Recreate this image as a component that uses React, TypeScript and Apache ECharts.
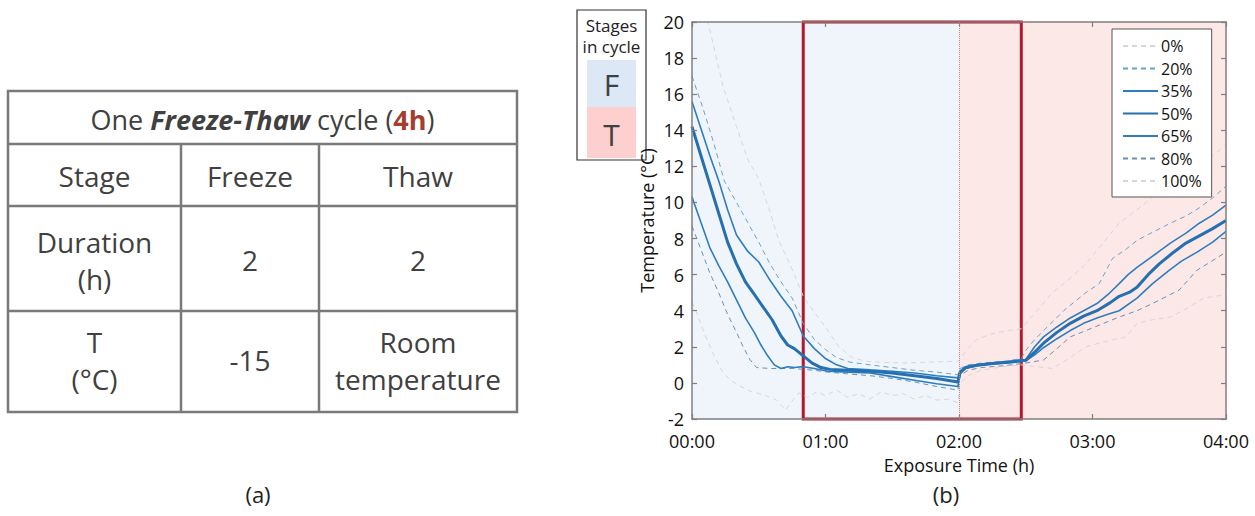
import React, { useEffect, useRef } from 'react';
import * as echarts from 'echarts';

const FONT = '"Open Sans", "Noto Sans", sans-serif';

// x axis: minutes 0..240, tick labels
const xTickLabels = ['00:00', '01:00', '02:00', '03:00', '04:00'];
const legendNames = ['0%', '20%', '35%', '50%', '65%', '80%', '100%'];

// [minute, temperature °C]
const p0: number[][] = [[0,4.5],[3,3.6],[6,2.6],[10,1.5],[14,0.55],[18,0.1],[22,-0.2],[26,-0.45],[29,-0.55],[33,-0.7],[38,-0.95],[42,-1.5],[45,-1.0],[48,-0.55],[52,-0.8],[56,-0.5],[60,-0.7],[65,-0.4],[70,-0.8],[75,-0.6],[80,-0.9],[85,-0.5],[90,-0.7],[95,-0.6],[100,-0.9],[105,-0.7],[110,-0.95],[115,-0.9],[119.5,-1.1],[120.5,0.0],[124,0.4],[130,0.7],[140,0.9],[148,1.0],[155,0.9],[162,0.8],[170,1.4],[177,2.0],[186,2.3],[195,2.55],[200,3.3],[207,3.5],[215,3.65],[222,4.1],[230,4.7],[240,4.9]];
const p20: number[][] = [[0,17.0],[5,15.2],[10,13.2],[14.5,11.2],[20,10.0],[25,8.9],[30,7.8],[35,6.6],[40,5.6],[45,4.7],[50,3.3],[55,2.4],[60,1.85],[65,1.4],[71,1.15],[80,1.0],[90,0.85],[100,0.7],[110,0.6],[119.5,0.45],[120.5,0.8],[124,1.0],[130,1.1],[140,1.2],[148,1.35],[150,1.8],[154,2.4],[158,2.9],[163,3.5],[167,4.0],[172,4.5],[177,5.0],[183,5.5],[186,6.2],[189,6.9],[195,7.4],[200,7.9],[207,8.35],[215,8.85],[222,9.25],[228,9.7],[234,10.25],[240,10.9]];
const p35: number[][] = [[0,15.6],[4,14.1],[8,12.6],[12,11.2],[16,9.6],[20,8.2],[25,7.3],[30,6.7],[35,5.7],[40,4.8],[45,4.0],[50,2.6],[55,1.9],[60,1.35],[65,1.0],[70,0.8],[80,0.72],[90,0.65],[100,0.55],[110,0.4],[119.5,0.28],[120.5,0.65],[123,0.9],[128,1.0],[135,1.1],[142,1.18],[150,1.3],[154,2.0],[158,2.55],[164,3.1],[170,3.6],[176,4.0],[182,4.4],[187,4.9],[192,5.5],[196,6.0],[200,6.4],[205,6.85],[209,7.2],[215,7.75],[222,8.3],[228,8.85],[234,9.3],[240,9.85]];
const p50: number[][] = [[0,14.2],[4,12.6],[8,11.0],[12,9.4],[16,7.8],[20,6.6],[24,5.6],[28,4.9],[32,4.2],[36,3.5],[40,2.6],[43,2.1],[46,1.9],[50,1.5],[54,1.1],[58,0.85],[62,0.75],[70,0.7],[80,0.65],[90,0.55],[100,0.4],[110,0.25],[119.5,0.05],[120.5,0.6],[123,0.85],[128,0.98],[135,1.08],[142,1.15],[150,1.25],[154,1.7],[158,2.2],[164,2.8],[170,3.3],[176,3.7],[182,4.0],[188,4.45],[192,4.8],[197,5.05],[200,5.3],[205,6.0],[210,6.6],[216,7.2],[222,7.75],[228,8.15],[234,8.55],[240,9.0]];
const p65: number[][] = [[0,10.3],[4,8.9],[8,7.5],[12,6.5],[16,5.6],[20,4.6],[24,3.6],[28,2.8],[31,2.1],[34,1.5],[37,1.0],[40,0.8],[43,0.9],[46,0.85],[50,0.9],[55,0.8],[61,0.65],[70,0.6],[80,0.55],[90,0.35],[100,0.15],[110,-0.05],[119.5,-0.2],[120.5,0.5],[123,0.8],[128,0.95],[135,1.05],[142,1.12],[150,1.22],[154,1.55],[158,1.95],[164,2.45],[170,2.9],[176,3.3],[182,3.6],[188,3.85],[192,4.0],[200,4.7],[207,5.5],[214,6.2],[220,6.75],[227,7.25],[234,7.8],[240,8.4]];
const p80: number[][] = [[0,8.7],[4,7.4],[8,6.1],[12,5.0],[16,3.8],[20,2.8],[23,2.0],[26,1.3],[29,0.85],[35,0.8],[45,0.8],[55,0.7],[61,0.6],[70,0.5],[80,0.4],[90,0.25],[100,0.05],[110,-0.2],[119.5,-0.4],[120.5,0.4],[124,0.7],[130,0.85],[140,0.95],[150,1.1],[158,1.27],[164,1.9],[170,2.55],[177,2.9],[185,3.3],[192,3.65],[200,4.0],[207,4.4],[215,4.9],[219,5.15],[223,5.7],[227,6.25],[233,6.7],[240,7.25]];
const p100: number[][] = [[0,23.5],[3,21.8],[7,20.1],[14,16.4],[20,14.2],[25,12.4],[30,11.3],[35,9.5],[39,7.9],[45,6.3],[50,4.8],[55,3.9],[60,3.1],[66,2.0],[72,1.4],[78,1.2],[84,1.15],[95,1.1],[105,1.15],[119.5,1.2],[120.5,1.3],[124,1.9],[128,2.4],[134,2.7],[142,2.9],[148,3.0],[155,4.0],[162,5.0],[170,5.8],[177,6.6],[185,7.8],[192,8.85],[200,9.6],[207,10.3],[215,11.0],[225,11.8],[232,12.4],[240,13.2]];

// stages (minutes)
const freezeStage = [0, 120];
const thawStage = [120, 240];
const highlightWindow = [50, 148];

// table content
const tableTitle = '{n|One }{b|Freeze-Thaw}{n| cycle (}{r|4h}{n|)}';
const rowHeader = ['Stage', 'Freeze', 'Thaw'];
const rowDuration = [['Duration', '(h)'], ['2'], ['2']];
const rowTemp = [['T', '(°C)'], ['-15'], ['Room', 'temperature']];

const GRAY = '#7a7a7a';
const TXT = '#404040';

function cellText(lines: string[], cx: number, cy: number, lineH: number, size: number) {
  const n = lines.length;
  return lines.map((s, i) => ({
    type: 'text',
    style: {
      text: s, x: cx, y: cy + (i - (n - 1) / 2) * lineH,
      align: 'center', verticalAlign: 'middle',
      fontSize: size, lineHeight: lineH - 2, fontFamily: FONT, fill: TXT,
    },
  }));
}

function buildTable() {
  const xs = [8, 181, 319, 517];
  const ys = [91, 144, 206, 311, 412];
  const els: any[] = [];
  const ls = { stroke: GRAY, lineWidth: 2.5 };
  els.push({ type: 'rect', shape: { x: xs[0], y: ys[0], width: xs[3] - xs[0], height: ys[4] - ys[0] }, style: { fill: '#fff', ...ls } });
  for (let i = 1; i < 4; i++) els.push({ type: 'line', shape: { x1: xs[0], y1: ys[i], x2: xs[3], y2: ys[i] }, style: ls });
  for (let j = 1; j < 3; j++) els.push({ type: 'line', shape: { x1: xs[j], y1: ys[1], x2: xs[j], y2: ys[4] }, style: ls });
  const tsz = 27;
  els.push({
    type: 'text',
    style: {
      text: tableTitle, x: (xs[0] + xs[3]) / 2, y: 119, align: 'center', verticalAlign: 'middle',
      rich: {
        n: { fontSize: tsz, fontFamily: FONT, fill: TXT, color: TXT },
        b: { fontSize: tsz, fontFamily: FONT, fill: TXT, color: TXT, fontWeight: 'bold', fontStyle: 'italic' },
        r: { fontSize: tsz, fontFamily: FONT, fill: '#a33f2e', color: '#a33f2e', fontWeight: 'bold' },
      },
    },
  });
  const cxs = [(xs[0] + xs[1]) / 2, (xs[1] + xs[2]) / 2, (xs[2] + xs[3]) / 2];
  rowHeader.forEach((s, j) => els.push(...cellText([s], cxs[j], 176, 36, 28)));
  rowDuration.forEach((l, j) => els.push(...cellText(l, cxs[j], 260, 37, 28)));
  rowTemp.forEach((l, j) => els.push(...cellText(l, cxs[j], 360, 37, 28)));
  return els;
}

function buildStagesBox() {
  const t = (text: string, y: number, size: number, lh: number, fill: string) => ({
    type: 'text',
    style: { text, x: 611.5, y, align: 'center', verticalAlign: 'middle', fontSize: size, lineHeight: lh, fontFamily: FONT, fill },
  });
  return [
    { type: 'rect', shape: { x: 577, y: 10, width: 69, height: 150 }, style: { fill: '#fff', stroke: '#333', lineWidth: 1.2 } },
    t('Stages\nin cycle', 36, 17, 21, '#222'),
    { type: 'rect', shape: { x: 587, y: 60, width: 49, height: 47 }, style: { fill: '#dce8f5' } },
    { type: 'rect', shape: { x: 587, y: 107, width: 49, height: 51 }, style: { fill: '#fdcfce' } },
    t('F', 84, 30, 32, '#404040'),
    t('T', 134, 30, 32, '#404040'),
  ];
}

function line(name: string, data: number[][], color: string, width: number, type: any, z: number) {
  return {
    name, type: 'line', data, symbol: 'none', showSymbol: false, z, silent: true,
    lineStyle: { color, width, type }, itemStyle: { color },
    emphasis: { disabled: true },
  };
}

const axisLineStyle = { color: '#7f7f7f', width: 1.5 };
const tickStyle = { show: true, inside: true, length: 5, lineStyle: { color: '#7f7f7f', width: 1.2 } };

export default function App() {
  const ref = useRef<HTMLDivElement>(null);
  useEffect(() => {
    const chart = echarts.init(ref.current!, null, { renderer: 'svg' });
    const option: any = {
      animation: false,
      backgroundColor: '#fff',
      textStyle: { fontFamily: FONT },
      grid: { left: 692, top: 22, width: 534, height: 397, containLabel: false, outerBoundsMode: 'none' },
      xAxis: [
        {
          type: 'value', min: 0, max: 240, interval: 60, position: 'bottom', z: 4,
          axisLine: { show: true, onZero: false, lineStyle: axisLineStyle },
          axisTick: tickStyle,
          axisLabel: { fontSize: 18, lineHeight: 16, color: '#111', margin: 14, fontFamily: FONT, formatter: (v: number) => xTickLabels[Math.round(v / 60)] },
          splitLine: { show: false },
          name: 'Exposure Time (h)', nameLocation: 'middle', nameGap: 37,
          nameTextStyle: { fontSize: 18, color: '#111', fontFamily: FONT },
        },
        {
          type: 'value', min: 0, max: 240, interval: 60, position: 'top', z: 4,
          axisLine: { show: true, onZero: false, lineStyle: axisLineStyle },
          axisTick: tickStyle,
          axisLabel: { show: false }, splitLine: { show: false },
        },
      ],
      yAxis: [
        {
          type: 'value', min: -2, max: 20, interval: 2, position: 'left', z: 4,
          axisLine: { show: true, onZero: false, lineStyle: axisLineStyle },
          axisTick: tickStyle,
          axisLabel: { fontSize: 18, lineHeight: 14, color: '#111', margin: 8, fontFamily: FONT },
          splitLine: { show: false },
          name: 'Temperature (°C)', nameLocation: 'middle', nameGap: 36,
          nameTextStyle: { fontSize: 18, color: '#111', fontFamily: FONT },
        },
        {
          type: 'value', min: -2, max: 20, interval: 2, position: 'right', z: 4,
          axisLine: { show: true, onZero: false, lineStyle: axisLineStyle },
          axisTick: tickStyle,
          axisLabel: { show: false }, splitLine: { show: false },
        },
      ],
      legend: {
        data: legendNames, orient: 'vertical', left: 1112, top: 29,
        itemWidth: 35, itemHeight: 14, itemGap: 6.5, padding: [9, 10, 8, 10],
        borderColor: '#555', borderWidth: 1, backgroundColor: '#fff', borderRadius: 0,
        selectedMode: false, z: 8,
        itemStyle: { opacity: 0, borderWidth: 0 },
        textStyle: { fontSize: 16, lineHeight: 16, color: '#111', fontFamily: FONT, padding: [0, 0, 0, -2] },
      },
      graphic: [...buildTable(), ...buildStagesBox(),
        { type: 'text', style: { text: '(a)', x: 258, y: 494, align: 'center', verticalAlign: 'middle', fontSize: 22, fontFamily: FONT, fill: '#222' } },
        { type: 'text', style: { text: '(b)', x: 946, y: 494, align: 'center', verticalAlign: 'middle', fontSize: 22, fontFamily: FONT, fill: '#222' } },
      ],
      series: [
        {
          name: 'stages', type: 'line', data: [], z: 1, silent: true,
          markArea: {
            silent: true,
            data: [
              [{ xAxis: freezeStage[0], itemStyle: { color: '#f0f5fb' } }, { xAxis: freezeStage[1] }],
              [{ xAxis: thawStage[0], itemStyle: { color: '#fde8e8' } }, { xAxis: thawStage[1] }],
            ],
          },
          markLine: {
            silent: true, symbol: ['none', 'none'], label: { show: false },
            lineStyle: { type: 'dotted', color: '#b08a8a', width: 1 },
            data: [{ xAxis: thawStage[0] }],
          },
        },
        line('0%', p0, '#d6d6d6', 1, [5, 4], 2),
        line('100%', p100, '#d6d6d6', 1, [5, 4], 2),
        line('20%', p20, '#6aa2cc', 1, [5, 4], 3),
        line('80%', p80, '#6a8fb5', 1, [5, 4], 3),
        line('35%', p35, '#2e7dbf', 1.6, 'solid', 3),
        line('65%', p65, '#2e7dbf', 1.6, 'solid', 3),
        line('50%', p50, '#2470b0', 3, 'solid', 3),
        {
          name: 'window', type: 'line', data: [], z: 6, silent: true,
          markArea: {
            silent: true,
            itemStyle: { color: 'rgba(0,0,0,0)', borderColor: '#b5172b', borderWidth: 3 },
            data: [[{ xAxis: highlightWindow[0] }, { xAxis: highlightWindow[1] }]],
          },
        },
      ],
    };
    chart.setOption(option);
    return () => chart.dispose();
  }, []);
  return <div ref={ref} style={{ position: 'fixed', left: 0, top: 0, width: 1255, height: 516, background: '#fff' }} />;
}
